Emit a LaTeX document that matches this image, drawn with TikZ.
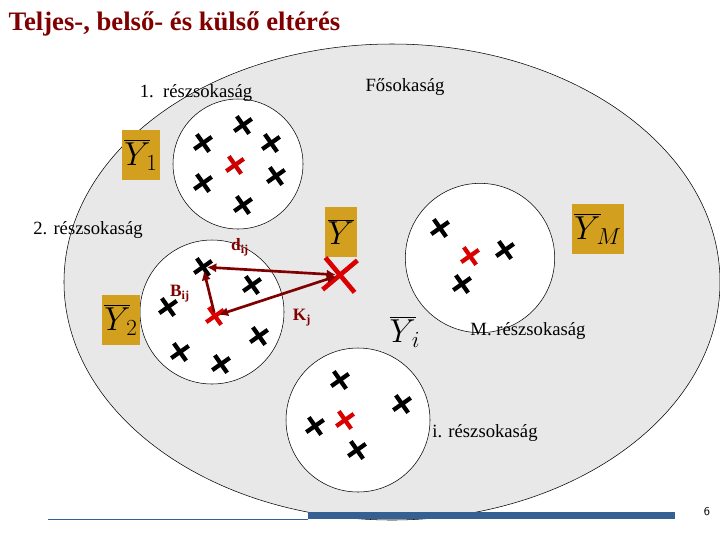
\documentclass[tikz,border=0pt]{standalone}
\usepackage{fontspec}
\setmainfont{Liberation Serif}
\usetikzlibrary{arrows.meta}
\definecolor{darkred}{RGB}{128,0,0}
\definecolor{gold}{RGB}{210,160,30}
\definecolor{barblue}{RGB}{54,96,146}
\begin{document}
\begin{tikzpicture}[
    x=0.75pt, y=-0.75pt,
    mintavetel/.style={
      circle,
      draw=black,
      fill=white,
      thin
    },
    atlag/.style={
      fill=gold,
      inner sep=2pt,
      minimum height=1.3cm,
      font=\fontsize{24}{26}\selectfont
    },
    felirat/.style={
      font=\fontsize{14}{16}\selectfont
    },
    jel/.style={
      text=darkred,
      font=\bfseries\fontsize{13}{15}\selectfont
    },
    nyil/.style={
      darkred,
      line width=2pt,
      -{Latex[length=7pt,width=7pt]},
      shorten <=3pt, shorten >=3pt
    }
  ]
  \useasboundingbox (0,0) rectangle (720,540);

  % crosses
  \newcommand{\xjel}[4]{%
    \coordinate (#1) at (#2);
    \draw[#3, line width=#4, rotate around={35:(#1)}]
      ([xshift=-8pt]#1) -- ([xshift=8pt]#1)
      ([yshift=-8pt]#1) -- ([yshift=8pt]#1);}

  \node[text=darkred, font=\bfseries\fontsize{20}{24}\selectfont, anchor=west] (cim) at (4,24) {Teljes-, belső- és külső eltérés};

  % populations
  \draw[fill=black!9, thin] (392,282) ellipse [x radius=328, y radius=238];
  \node[mintavetel, minimum size=97.5pt] (m1) at (238,164) {};
  \node[mintavetel, minimum size=108pt] (m2) at (212,312) {};
  \node[mintavetel, minimum size=108pt] (mi) at (358,420) {};
  \node[mintavetel, minimum size=112pt] (mM) at (480,258) {};

  \node[felirat] (f0) at (405,87) {Fősokaság};
  \node[felirat] (f1) at (196,93) {1.\ \ részsokaság};
  \node[felirat] (f2) at (88,230) {2. részsokaság};
  \node[felirat] (fM) at (528,331) {M. részsokaság};
  \node[felirat] (fi) at (485,433) {i. részsokaság};

  \node[atlag] (y1) at (141,155) {$\overline{Y}_{\!1}$};
  \node[atlag] (y) at (341,232) {$\overline{Y}$};
  \node[atlag] (y2) at (121,320) {$\overline{Y}_{\!2}$};
  \node[atlag] (yM) at (598,229) {$\overline{Y}_{\!M}$};
  \node[font=\fontsize{24}{26}\selectfont] (yi) at (405,332) {$\overline{Y}_{\!i}$};

  \xjel{a1}{203,143}{black}{3.2pt}
  \xjel{a2}{243,125}{black}{3.2pt}
  \xjel{a3}{271,143}{black}{3.2pt}
  \xjel{a4}{203,183}{black}{3.2pt}
  \xjel{a5}{276,176}{black}{3.2pt}
  \xjel{a6}{243,205}{black}{3.2pt}
  \xjel{a7}{235,165}{red!80!black}{3.2pt}

  \xjel{b1}{203,267}{black}{3.2pt}
  \xjel{b2}{252,285}{black}{3.2pt}
  \xjel{b3}{168,307}{black}{3.2pt}
  \xjel{b4}{180,352}{black}{3.2pt}
  \xjel{b5}{259,336}{black}{3.2pt}
  \xjel{b6}{221,364}{black}{3.2pt}
  \xjel{b7}{215,316}{red!85!black}{3.2pt}

  \xjel{c1}{340,380}{black}{3.2pt}
  \xjel{c2}{402,404}{black}{3.2pt}
  \xjel{c3}{315,426}{black}{3.2pt}
  \xjel{c4}{357,450}{black}{3.2pt}
  \xjel{c5}{345,420}{red!85!black}{3.2pt}

  \xjel{d1}{440,228}{black}{3.2pt}
  \xjel{d2}{505,250}{black}{3.2pt}
  \xjel{d3}{462,284}{black}{3.2pt}
  \xjel{d4}{470,256}{red!85!black}{3.2pt}

  \coordinate (k) at (340,275);
  \draw[red!85!black, line width=3.5pt, rotate around={40:(k)}]
    ([xshift=-17pt]k) -- ([xshift=17pt]k) ([yshift=-17pt]k) -- ([yshift=17pt]k);

  \draw[nyil, {Latex[length=7pt,width=7pt]}-{Latex[length=7pt,width=7pt]}] (b1) -- (k);
  \draw[nyil] (b7) -- (b1);
  \draw[nyil, {Latex[length=7pt,width=7pt]}-{Latex[length=7pt,width=7pt]}] (b7) -- (k);

  \node[jel] (dij) at (240,247) {d\textsubscript{ij}};
  \node[jel] (bij) at (180,294) {B\textsubscript{ij}};
  \node[jel] (kj) at (302,318) {K\textsubscript{j}};

  \node[font=\sffamily\small] (lap) at (707,512) {6};
  \draw[thin, barblue] (48,519) -- (308,519);
  \fill[barblue] (308,512) rectangle (675,519);
\end{tikzpicture}
\end{document}
